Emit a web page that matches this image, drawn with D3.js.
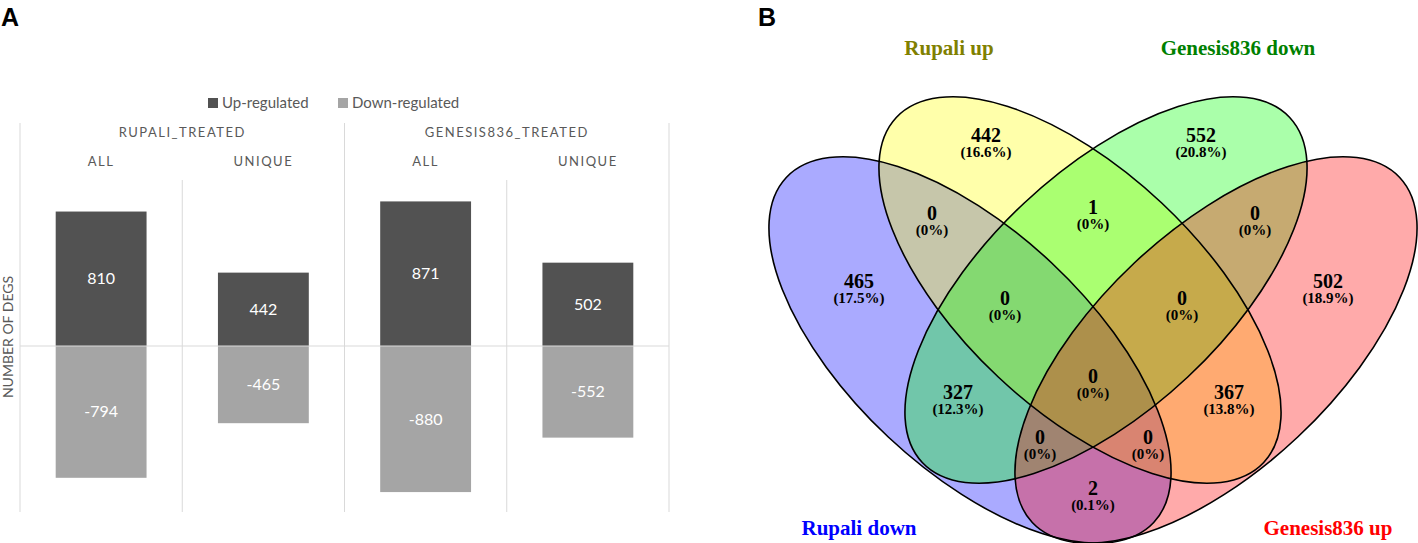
<!DOCTYPE html>
<html>
<head>
<meta charset="utf-8">
<script src="https://cdn.jsdelivr.net/npm/d3@7"></script>
<style>
  body { margin: 0; background: #fff; }
  svg { display: block; }
</style>
</head>
<body>
<svg id="chart"></svg>
<script>
// ---- panel A data ----
const groups = ["RUPALI_TREATED", "GENESIS836_TREATED"];
const subsets = ["ALL", "UNIQUE"];
const barKeys = ["RUPALI_TREATED|ALL", "RUPALI_TREATED|UNIQUE", "GENESIS836_TREATED|ALL", "GENESIS836_TREATED|UNIQUE"];
const upRegulated = [810, 442, 871, 502];
const downRegulated = [-794, -465, -880, -552];
const seriesNames = ["Up-regulated", "Down-regulated"];
const yTicks = [-1000, 0, 1000];

// ---- panel B data ----
const setNames = ["Rupali down", "Rupali up", "Genesis836 down", "Genesis836 up"];
const regionSets = ["B", "Y", "G", "R", "BY", "YG", "GR", "BYG", "YGR", "BG", "YR", "BYGR", "BGR", "BYR", "BR"];
const regionCounts = [465, 442, 552, 502, 0, 1, 0, 0, 0, 327, 367, 0, 0, 0, 2];

const W = 1418, H = 543;
const svg = d3.select("#chart").attr("width", W).attr("height", H);

// panel letters
svg.append("text").attr("x", 1).attr("y", 26).text("A")
  .attr("font-family", "Liberation Sans, Arial, sans-serif").attr("font-weight", "bold").attr("font-size", 25);
svg.append("text").attr("x", 758).attr("y", 26).text("B")
  .attr("font-family", "Liberation Sans, Arial, sans-serif").attr("font-weight", "bold").attr("font-size", 25);

// ================= Panel A =================
const gA = svg.append("g").attr("font-family", "Lato, 'Open Sans', sans-serif");
const plotLeft = 20, plotRight = 669, plotTop = 180, plotBottom = 512, headerTop = 123;
const darkCol = "#525252", lightCol = "#a5a5a5", gridCol = "#d9d9d9", textCol = "#595959";

const x = d3.scaleBand().domain(barKeys).range([plotLeft, plotRight]).paddingInner(0.44).paddingOuter(0.22);
const y = d3.scaleLinear().domain(d3.extent(yTicks)).range([plotBottom, plotTop]);
const step = x.step();

// vertical separators
const sepX = d3.range(barKeys.length + 1).map(i => plotLeft + i * (plotRight - plotLeft) / barKeys.length);
gA.selectAll(".sep").data(sepX).enter().append("line")
  .attr("x1", d => d).attr("x2", d => d)
  .attr("y1", (d, i) => i % 2 === 0 ? headerTop : plotTop)
  .attr("y2", plotBottom)
  .attr("stroke", gridCol).attr("stroke-width", 1);

// bars
const barData = barKeys.map((k, i) => ({ key: k, up: upRegulated[i], down: downRegulated[i] }));
gA.selectAll(".up").data(barData).enter().append("rect")
  .attr("x", d => x(d.key)).attr("width", x.bandwidth())
  .attr("y", d => y(d.up)).attr("height", d => y(0) - y(d.up))
  .attr("fill", darkCol);
gA.selectAll(".down").data(barData).enter().append("rect")
  .attr("x", d => x(d.key)).attr("width", x.bandwidth())
  .attr("y", y(0)).attr("height", d => y(d.down) - y(0))
  .attr("fill", lightCol);

// zero line
gA.append("line").attr("x1", plotLeft).attr("x2", plotRight).attr("y1", y(0)).attr("y2", y(0))
  .attr("stroke", gridCol).attr("stroke-width", 1.2);

// value labels
gA.selectAll(".uplab").data(barData).enter().append("text")
  .attr("x", d => x(d.key) + x.bandwidth() / 2).attr("y", d => (y(d.up) + y(0)) / 2 + 5.5)
  .attr("text-anchor", "middle").attr("fill", "#fff").attr("font-size", 16).text(d => d.up);
gA.selectAll(".dnlab").data(barData).enter().append("text")
  .attr("x", d => x(d.key) + x.bandwidth() / 2).attr("y", d => (y(d.down) + y(0)) / 2 + 5.5)
  .attr("text-anchor", "middle").attr("fill", "#fff").attr("font-size", 16).text(d => d.down);

// category labels
gA.selectAll(".grp").data(groups).enter().append("text")
  .attr("x", (d, i) => plotLeft + step * (2 * i + 1)).attr("y", 137)
  .attr("text-anchor", "middle").attr("fill", textCol).attr("font-size", 13)
  .attr("letter-spacing", 1.5).text(d => d);
gA.selectAll(".sub").data(barKeys).enter().append("text")
  .attr("x", d => x(d) + x.bandwidth() / 2).attr("y", 166)
  .attr("text-anchor", "middle").attr("fill", textCol).attr("font-size", 13)
  .attr("letter-spacing", 1.5).text(d => d.split("|")[1]);

// y title
gA.append("text").attr("transform", "translate(13,337) rotate(-90)")
  .attr("text-anchor", "middle").attr("fill", textCol).attr("font-size", 14)
  .text("NUMBER OF DEGS");

// legend
const legX = [208, 338];
const leg = gA.selectAll(".leg").data(seriesNames).enter().append("g")
  .attr("transform", (d, i) => `translate(${legX[i]},98)`);
leg.append("rect").attr("width", 10).attr("height", 10).attr("fill", (d, i) => i === 0 ? darkCol : lightCol);
leg.append("text").attr("x", 14).attr("y", 10).attr("font-size", 15).attr("fill", textCol).text(d => d);

// ================= Panel B =================
const gB = svg.append("g");
const axisX = 1093;
const ell = { rx: 252, ry: 119.4, rot: 43.2 };
const ellipses = [
  { set: "B", cx: 970, cy: 350, rot: ell.rot, color: "#0000ff" },
  { set: "Y", cx: 1080, cy: 290, rot: ell.rot, color: "#ffff00" },
  { set: "G", cx: 2 * axisX - 1080, cy: 290, rot: -ell.rot, color: "#00ff00" },
  { set: "R", cx: 2 * axisX - 970, cy: 350, rot: -ell.rot, color: "#ff0000" }
];
gB.selectAll(".fill").data(ellipses).enter().append("ellipse")
  .attr("transform", d => `translate(${d.cx},${d.cy}) rotate(${d.rot})`)
  .attr("rx", ell.rx).attr("ry", ell.ry)
  .attr("fill", d => d.color).attr("fill-opacity", 0.333);
gB.selectAll(".edge").data(ellipses).enter().append("ellipse")
  .attr("transform", d => `translate(${d.cx},${d.cy}) rotate(${d.rot})`)
  .attr("rx", ell.rx).attr("ry", ell.ry)
  .attr("fill", "none").attr("stroke", "#000").attr("stroke-width", 1.6);

// region label centres (layout)
const regionPos = {
  B: [859, 281], Y: [986, 135], G: [1201, 135], R: [1328, 281],
  BY: [932, 213], YG: [1093, 207], GR: [1255, 213],
  BYG: [1005, 298], YGR: [1182, 298], BG: [958, 392], YR: [1229, 392],
  BYGR: [1093, 376], BGR: [1040, 437], BYR: [1148, 437], BR: [1093, 488]
};
const total = d3.sum(regionCounts);
const pct = v => { const p = Math.round(v / total * 1000) / 10; return "(" + (p === 0 ? "0" : p) + "%)"; };
const regions = regionSets.map((s, i) => ({ set: s, n: regionCounts[i], pos: regionPos[s] }));
const serif = "'Liberation Serif', 'Times New Roman', serif";
gB.selectAll(".num").data(regions).enter().append("text")
  .attr("x", d => d.pos[0]).attr("y", d => d.pos[1] + 7)
  .attr("text-anchor", "middle").attr("font-family", serif).attr("font-weight", "bold")
  .attr("font-size", 20).text(d => d.n);
gB.selectAll(".pct").data(regions).enter().append("text")
  .attr("x", d => d.pos[0]).attr("y", d => d.pos[1] + 21.5)
  .attr("text-anchor", "middle").attr("font-family", serif).attr("font-weight", "bold")
  .attr("font-size", 15).text(d => pct(d.n));

// set titles
const titleColors = ["#0000ff", "#808000", "#008000", "#ff0000"];
const titlePos = [[859, 535], [949, 55], [1238, 55], [1328, 535]];
gB.selectAll(".title").data(setNames).enter().append("text")
  .attr("x", (d, i) => titlePos[i][0]).attr("y", (d, i) => titlePos[i][1])
  .attr("text-anchor", "middle").attr("font-family", serif).attr("font-weight", "bold")
  .attr("font-size", 21).attr("fill", (d, i) => titleColors[i]).text(d => d);
</script>
</body>
</html>
